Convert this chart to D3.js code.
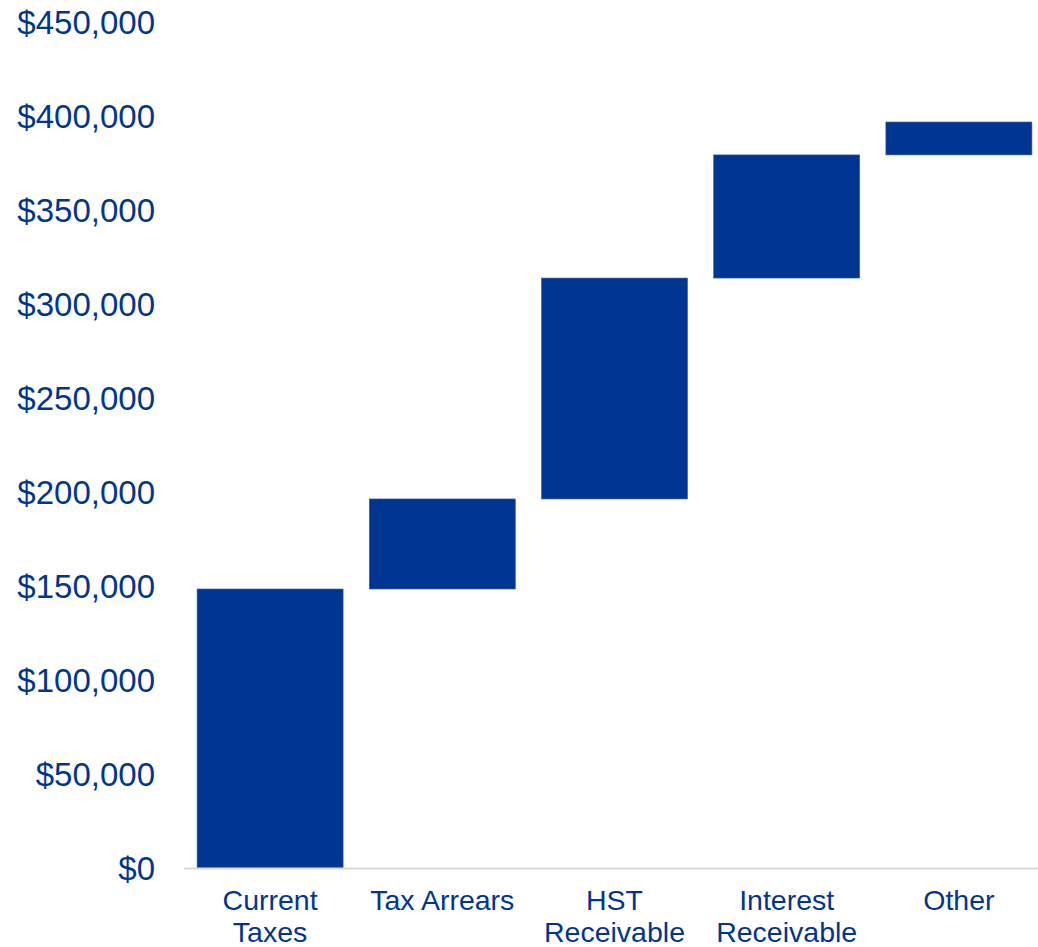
<!DOCTYPE html>
<html>
<head>
<meta charset="utf-8">
<script src="https://cdn.jsdelivr.net/npm/d3@7"></script>
<style>
  body { margin: 0; background: #fff; }
  text { font-family: "Liberation Sans", Arial, sans-serif; fill: #003591; }
</style>
</head>
<body>
<div id="chart"></div>
<script>
var categories = [["Current", "Taxes"], ["Tax Arrears"], ["HST", "Receivable"], ["Interest", "Receivable"], ["Other"]];
var increments = [148400, 47900, 117500, 65500, 17500];
var yTicks = [0, 50000, 100000, 150000, 200000, 250000, 300000, 350000, 400000, 450000];

var width = 1038, height = 947;
var barColor = "#003591";

var svg = d3.select("#chart").append("svg")
    .attr("width", width)
    .attr("height", height);

// running totals for the waterfall
var cum = 0;
var steps = increments.map(function(v, i) {
    var s = { key: i, start: cum, end: cum + v };
    cum += v;
    return s;
});

var x = d3.scaleBand()
    .domain(d3.range(categories.length))
    .range([184, 1045])
    .paddingInner(0.152)
    .paddingOuter(0.076);

var y = d3.scaleLinear()
    .domain([0, 450000])
    .range([868, 22]);

var fmt = d3.format("$,");

// y tick labels
svg.append("g").selectAll("text")
    .data(yTicks)
    .enter().append("text")
    .attr("x", 155)
    .attr("y", function(d) { return y(d); })
    .attr("dy", "0.35em")
    .attr("text-anchor", "end")
    .style("font-size", "33px")
    .text(function(d) { return fmt(d); });

// bars
svg.append("g").selectAll("rect")
    .data(steps)
    .enter().append("rect")
    .attr("x", function(d) { return x(d.key); })
    .attr("width", x.bandwidth())
    .attr("y", function(d) { return y(d.end); })
    .attr("height", function(d) { return y(d.start) - y(d.end); })
    .attr("fill", barColor)
    .attr("stroke", "#3a5fa8")
    .attr("stroke-width", 0.6);

// baseline
svg.append("line")
    .attr("x1", 184).attr("x2", width)
    .attr("y1", y(0) + 0.5).attr("y2", y(0) + 0.5)
    .attr("stroke", "#d9d9d9")
    .attr("stroke-width", 2);

// category labels
var lab = svg.append("g").selectAll("text")
    .data(categories)
    .enter().append("text")
    .attr("x", function(d, i) { return x(i) + x.bandwidth() / 2; })
    .attr("y", 910)
    .attr("text-anchor", "middle")
    .style("font-size", "28.5px");
lab.selectAll("tspan")
    .data(function(d) { return d; })
    .enter().append("tspan")
    .attr("x", function() { return d3.select(this.parentNode).attr("x"); })
    .attr("dy", function(d, i) { return i === 0 ? 0 : 32; })
    .text(function(d) { return d; });
</script>
</body>
</html>
